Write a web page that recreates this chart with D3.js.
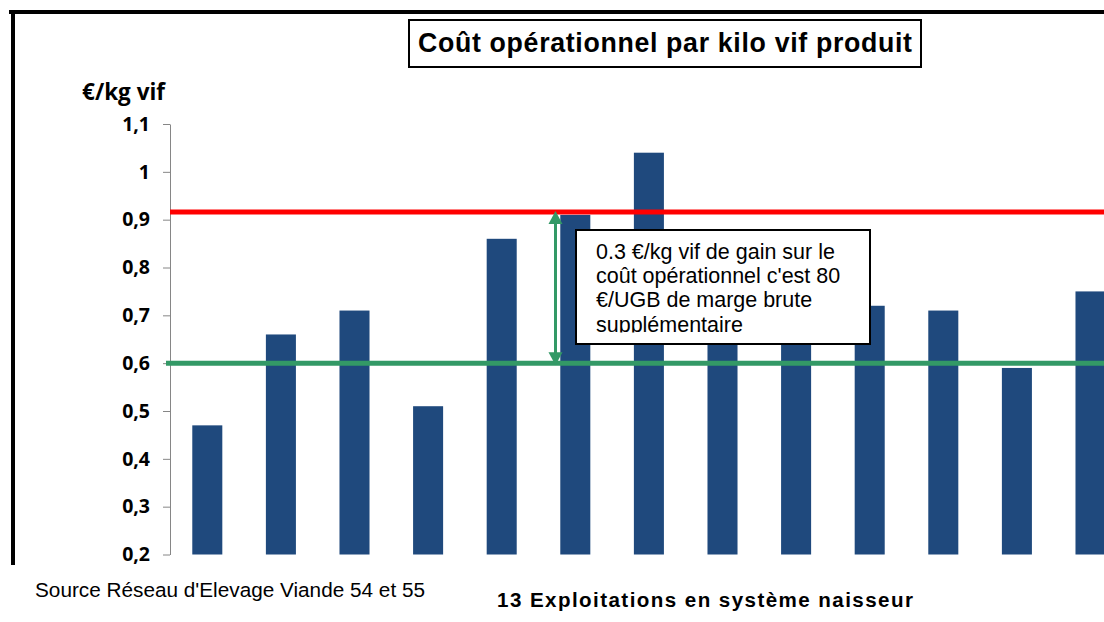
<!DOCTYPE html>
<html>
<head>
<meta charset="utf-8">
<script src="https://cdn.jsdelivr.net/npm/d3@7"></script>
<style>
    body { margin: 0; background: #fff; }
    svg { display: block; }
</style>
</head>
<body>
<svg id="chart" width="1104" height="622"></svg>
<script>
// data
var exploitations = ["1", "2", "3", "4", "5", "6", "7", "8", "9", "10", "11", "12", "13"];
var couts = [0.47, 0.66, 0.71, 0.51, 0.86, 0.91, 1.04, 0.74, 0.69, 0.72, 0.71, 0.59, 0.75];
var yTicks = [0.2, 0.3, 0.4, 0.5, 0.6, 0.7, 0.8, 0.9, 1.0, 1.1];
var seuilHaut = 0.916,
    seuilBas = 0.6;

var titre = "Coût opérationnel par kilo vif produit",
    uniteY = "€/kg vif",
    titreX = "13 Exploitations en système naisseur",
    source = "Source Réseau d'Elevage Viande 54 et 55";
var noteLignes = ["0.3 €/kg vif de gain sur le", "coût opérationnel c'est 80", "€/UGB de marge brute", "supplémentaire"];

// scale the font so the text has the wanted width; k < 1 leaves room for letter spacing
function fit(sel, size, w, k) {
    k = k || 1;
    sel.style("font-size", size + "px");
    var n = sel.node().getComputedTextLength();
    sel.style("font-size", (size * w / n * k) + "px");
    if (k < 1) { sel.attr("textLength", w).attr("lengthAdjust", "spacing"); }
    return sel;
}

function draw_chart() {
    var canvas = d3.select("#chart"),
        width = 1104,
        height = 622,
        arial = "'Liberation Sans', Arial, sans-serif",
        calibri = "'Open Sans', sans-serif",
        blue = "#1F497D",
        green = "#339966",
        red = "#FF0000";

    var x = d3.scaleBand().domain(exploitations).range([170.5, 1127.3])
            .paddingInner(0.592).paddingOuter(0.296),
        y = d3.scaleLinear().domain([0.2, 1.1]).range([554.5, 124]);

    // frame (cropped at the right)
    canvas.append("line").attr("x1", 9).attr("x2", width).attr("y1", 12).attr("y2", 12)
        .attr("stroke", "#000").attr("stroke-width", 4);
    canvas.append("line").attr("x1", 13).attr("x2", 13).attr("y1", 10).attr("y2", 565)
        .attr("stroke", "#000").attr("stroke-width", 4);

    // title box
    canvas.append("rect").attr("x", 409).attr("y", 20).attr("width", 512).attr("height", 47)
        .attr("fill", "#fff").attr("stroke", "#000").attr("stroke-width", 2);
    fit(canvas.append("text").attr("x", 418).attr("y", 52)
        .style("font-family", arial).style("font-weight", "bold").text(titre), 21, 494, 0.95);

    // y axis
    var yAxis = canvas.append("g").attr("transform", "translate(170,0)")
        .call(d3.axisLeft(y).tickValues(yTicks).tickSize(7).tickSizeOuter(0).tickPadding(13)
            .tickFormat(d => String(+d.toFixed(1)).replace(".", ",")));
    yAxis.select(".domain").attr("stroke", "#868686");
    yAxis.selectAll(".tick line").attr("stroke", "#868686");
    yAxis.selectAll(".tick text").attr("fill", "#000")
        .style("font-family", calibri).style("font-weight", "bold").style("font-size", "19.5px");

    fit(canvas.append("text").attr("x", 165).attr("y", 100).attr("text-anchor", "end")
        .style("font-family", calibri).style("font-weight", "bold").text(uniteY), 18, 83);

    // bars
    canvas.append("g").selectAll("rect").data(couts).enter().append("rect")
        .attr("x", (d, i) => x(exploitations[i]))
        .attr("y", d => y(d))
        .attr("width", x.bandwidth())
        .attr("height", d => y(0.2) - y(d))
        .attr("fill", blue);

    // reference lines
    canvas.append("line").attr("x1", 166).attr("x2", width).attr("y1", y(seuilBas)).attr("y2", y(seuilBas))
        .attr("stroke", green).attr("stroke-width", 5);
    canvas.append("line").attr("x1", 170).attr("x2", width).attr("y1", y(seuilHaut)).attr("y2", y(seuilHaut))
        .attr("stroke", red).attr("stroke-width", 5);

    // double arrow between the two lines
    var ax = 555.5,
        top = y(seuilHaut) - 1,
        bottom = y(seuilBas) + 2;
    canvas.append("line").attr("x1", ax).attr("x2", ax).attr("y1", top + 10).attr("y2", bottom - 10)
        .attr("stroke", green).attr("stroke-width", 3);
    canvas.append("path").attr("fill", green)
        .attr("d", "M" + ax + "," + top + "L" + (ax + 7) + "," + (top + 13) + "L" + (ax - 7) + "," + (top + 13) + "Z");
    canvas.append("path").attr("fill", green)
        .attr("d", "M" + ax + "," + bottom + "L" + (ax + 7) + "," + (bottom - 13) + "L" + (ax - 7) + "," + (bottom - 13) + "Z");

    // note box, last line cut at the bottom as in the original
    canvas.append("defs").append("clipPath").attr("id", "noteclip")
        .append("rect").attr("x", 576).attr("y", 230).attr("width", 294).attr("height", 102.5);
    canvas.append("rect").attr("x", 576).attr("y", 230).attr("width", 294).attr("height", 114)
        .attr("fill", "#fff").attr("stroke", "#000").attr("stroke-width", 2);
    var note = canvas.append("g").attr("clip-path", "url(#noteclip)");
    note.selectAll("text").data(noteLignes).enter().append("text")
        .attr("x", 596).attr("y", (d, i) => 258.5 + i * 24.4)
        .style("font-family", arial)
        .attr("fill", "#000")
        .text(d => d);
    fit(note.select("text"), 17, 239);
    note.selectAll("text").style("font-size", note.select("text").style("font-size"));

    // bottom texts
    canvas.append("text").attr("x", 35).attr("y", 597)
        .style("font-family", arial).style("font-size", "20.5px")
        .attr("textLength", 390).attr("lengthAdjust", "spacingAndGlyphs")
        .text(source);
    fit(canvas.append("text").attr("x", 497).attr("y", 607)
        .style("font-family", arial).style("font-weight", "bold").text(titreX), 16, 416, 0.88);
}

draw_chart();
</script>
</body>
</html>
